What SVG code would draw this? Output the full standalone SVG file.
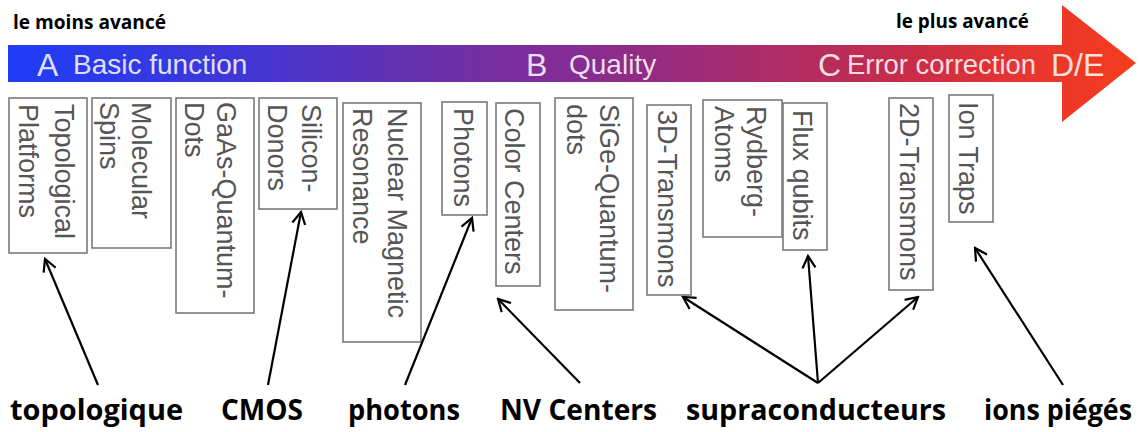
<svg xmlns="http://www.w3.org/2000/svg" width="1142" height="432" viewBox="0 0 1142 432">
<defs>
  <linearGradient id="barGrad" x1="8" y1="0" x2="1136" y2="0" gradientUnits="userSpaceOnUse">
    <stop offset="0" stop-color="#1f3cf6"/>
    <stop offset="0.2" stop-color="#3f37d8"/>
    <stop offset="0.38" stop-color="#6a30a8"/>
    <stop offset="0.5" stop-color="#852c94"/>
    <stop offset="0.68" stop-color="#ad2c66"/>
    <stop offset="0.8" stop-color="#c92c48"/>
    <stop offset="0.9" stop-color="#e83530"/>
    <stop offset="1" stop-color="#f43c1c"/>
  </linearGradient>
  <marker id="chev" viewBox="-13 -8 15 16" refX="0" refY="0" markerWidth="15" markerHeight="16" markerUnits="userSpaceOnUse" orient="auto">
    <path d="M-12,-6.5 L0,0 L-12,6.5" fill="none" stroke="#000" stroke-width="2.2" stroke-linejoin="miter"/>
  </marker>
</defs>
<style>
  .box { fill: #fff; stroke: #7a7a7a; stroke-width: 1.6; }
  .bt { font-family: "Liberation Sans", Arial, sans-serif; font-size: 27px; fill: #555; }
  .bar { font-family: "Liberation Sans", Arial, sans-serif; fill: #fff; fill-opacity: 0.85; }
  .lab { font-family: "Open Sans", "Liberation Sans", sans-serif; font-weight: 700; fill: #000; }
  .conn line { stroke: #000; stroke-width: 2.2; marker-end: url(#chev); }
</style>
<rect width="1142" height="432" fill="#fff"/>

<g id="progress-arrow">
  <path d="M8,45 L1062,45 L1062,5 L1136,63 L1062,122 L1062,82 L8,82 Z" fill="url(#barGrad)"/>
  <text class="bar" x="37" y="76" font-size="32">A</text>
  <text class="bar" x="73" y="74" font-size="28">Basic function</text>
  <text class="bar" x="526" y="76" font-size="32">B</text>
  <text class="bar" x="569" y="74" font-size="28">Quality</text>
  <text class="bar" x="818" y="76" font-size="32">C</text>
  <text class="bar" x="847" y="74" font-size="27" textLength="189" lengthAdjust="spacingAndGlyphs">Error correction</text>
  <text class="bar" x="1051" y="76" font-size="32">D/E</text>
</g>

<text class="lab" x="13" y="29" font-size="19" textLength="153" lengthAdjust="spacingAndGlyphs">le moins avancé</text>
<text class="lab" x="896" y="28" font-size="19" textLength="133" lengthAdjust="spacingAndGlyphs">le plus avancé</text>

<g id="n-topological">
  <rect class="box" x="9" y="98" width="78" height="155"/>
  <text class="bt" transform="translate(55,104) rotate(90)"><tspan x="0" y="0">Topological</tspan><tspan x="0" dy="36">Platforms</tspan></text>
</g>
<g id="n-molecular">
  <rect class="box" x="92" y="98" width="79" height="150"/>
  <text class="bt" transform="translate(132,102) rotate(90)"><tspan x="0" y="0">Molecular</tspan><tspan x="0" dy="32">Spins</tspan></text>
</g>
<g id="n-gaas">
  <rect class="box" x="176" y="98" width="78" height="215"/>
  <text class="bt" transform="translate(217,102) rotate(90)"><tspan x="0" y="0">GaAs-Quantum-</tspan><tspan x="0" dy="32">Dots</tspan></text>
</g>
<g id="n-silicon">
  <rect class="box" x="259" y="98" width="78" height="111"/>
  <text class="bt" transform="translate(302,104) rotate(90)"><tspan x="0" y="0">Silicon-</tspan><tspan x="0" dy="34">Donors</tspan></text>
</g>
<g id="n-nmr">
  <rect class="box" x="343" y="103" width="78" height="239"/>
  <text class="bt" transform="translate(388,108) rotate(90)"><tspan x="0" y="0">Nuclear Magnetic</tspan><tspan x="0" dy="35">Resonance</tspan></text>
</g>
<g id="n-photons">
  <rect class="box" x="442" y="102" width="45" height="113"/>
  <text class="bt" transform="translate(454,108) rotate(90)">Photons</text>
</g>
<g id="n-color">
  <rect class="box" x="496" y="103" width="44" height="183"/>
  <text class="bt" transform="translate(505,108) rotate(90)">Color Centers</text>
</g>
<g id="n-sige">
  <rect class="box" x="555" y="98" width="78" height="212"/>
  <text class="bt" transform="translate(600,104) rotate(90)"><tspan x="0" y="0">SiGe-Quantum-</tspan><tspan x="0" dy="33">dots</tspan></text>
</g>
<g id="n-3d">
  <rect class="box" x="647" y="105" width="44" height="190"/>
  <text class="bt" transform="translate(658,110) rotate(90)">3D-Transmons</text>
</g>
<g id="n-rydberg">
  <rect class="box" x="703" y="100" width="79" height="137"/>
  <text class="bt" transform="translate(747,106) rotate(90)"><tspan x="0" y="0">Rydberg-</tspan><tspan x="0" dy="32">Atoms</tspan></text>
</g>
<g id="n-flux">
  <rect class="box" x="783" y="103" width="44" height="147"/>
  <text class="bt" transform="translate(793,110) rotate(90)">Flux qubits</text>
</g>
<g id="n-2d">
  <rect class="box" x="889" y="98" width="44" height="192"/>
  <text class="bt" transform="translate(900,103) rotate(90)">2D-Transmons</text>
</g>
<g id="n-ion">
  <rect class="box" x="949" y="95" width="44" height="127"/>
  <text class="bt" transform="translate(959,102) rotate(90)">Ion Traps</text>
</g>

<g id="l-topologique"><text class="lab" x="10" y="420" font-size="28" textLength="173" lengthAdjust="spacingAndGlyphs">topologique</text></g>
<g id="l-cmos"><text class="lab" x="221" y="420" font-size="28" textLength="82" lengthAdjust="spacingAndGlyphs">CMOS</text></g>
<g id="l-photons"><text class="lab" x="348" y="420" font-size="28" textLength="112" lengthAdjust="spacingAndGlyphs">photons</text></g>
<g id="l-nv"><text class="lab" x="500" y="420" font-size="28" textLength="157" lengthAdjust="spacingAndGlyphs">NV Centers</text></g>
<g id="l-supra"><text class="lab" x="686" y="420" font-size="28" textLength="260" lengthAdjust="spacingAndGlyphs">supraconducteurs</text></g>
<g id="l-ions"><text class="lab" x="984" y="420" font-size="28" textLength="148" lengthAdjust="spacingAndGlyphs">ions piégés</text></g>

<g id="connectors" class="conn">
  <line x1="98" y1="385" x2="45" y2="259"/>
  <line x1="268" y1="385" x2="301" y2="212"/>
  <line x1="405" y1="385" x2="472" y2="218"/>
  <line x1="580" y1="383" x2="498" y2="299"/>
  <line x1="818" y1="383" x2="683" y2="297"/>
  <line x1="818" y1="383" x2="808" y2="256"/>
  <line x1="818" y1="383" x2="918" y2="297"/>
  <line x1="1063" y1="385" x2="975" y2="248"/>
</g>
</svg>
